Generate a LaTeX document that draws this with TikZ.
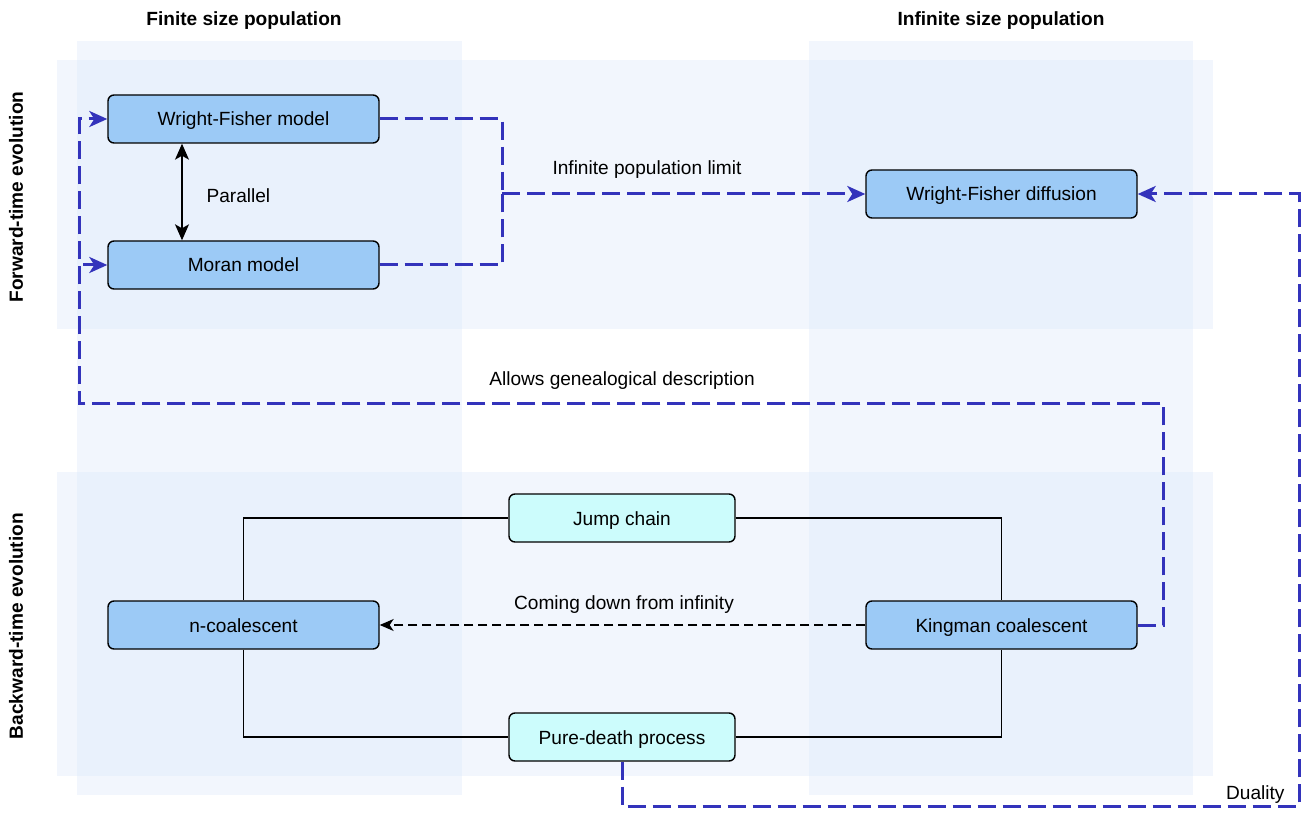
\documentclass[tikz,border=0pt]{standalone}
\usepackage{fontspec}
\setmainfont{Liberation Sans}
\usetikzlibrary{arrows.meta,calc}

\definecolor{bandblue}{RGB}{218,232,252}
\definecolor{boxblue}{RGB}{156,202,246}
\definecolor{boxcyan}{RGB}{204,252,252}
\definecolor{flowblue}{RGB}{51,51,187}

\tikzset{
  txt/.style={font=\fontsize{19.1}{22}\selectfont, text height=14pt, text depth=0pt},
  head/.style={txt, font=\fontsize{19.1}{22}\selectfont\bfseries},
  band/.style={fill=bandblue, fill opacity=0.35, draw=none},
  modelbox/.style={draw=black, line width=1.4pt, rounded corners=6pt, fill=boxblue,
    minimum width=271pt, minimum height=48pt, inner sep=0pt, txt},
  procbox/.style={modelbox, fill=boxcyan, minimum width=226pt},
  bluedash/.style={draw=flowblue, line width=3pt, dash pattern=on 18pt off 7pt},
  bluetip/.style={-{Stealth[length=18pt,width=16pt,inset=5pt]}},
  plainline/.style={draw=black, line width=1.3pt},
  thindash/.style={draw=black, line width=1.3pt, dash pattern=on 9pt off 5pt,
    -{Stealth[length=14pt,width=12pt,inset=4pt]}},
}

\begin{document}
\begin{tikzpicture}[x=1pt, y=-1pt]
\useasboundingbox (0,0) rectangle (1307,813);
\fill[white] (0,0) rectangle (1307,813);

% translucent lanes: two columns and two rows
\fill[band] (77,41) rectangle (462,795);
\fill[band] (809,41) rectangle (1193,795);
\fill[band] (57,60) rectangle (1213,329);
\fill[band] (57,472) rectangle (1213,776);

% lane headings
\node[head] (hfin) at (244,19) {Finite size population};
\node[head] (hinf) at (1001,19) {Infinite size population};
\node[head, rotate=90] (hfwd) at (16,197) {Forward-time evolution};
\node[head, rotate=90] (hbwd) at (16,626) {Backward-time evolution};

% models
\node[modelbox] (wf)  at (243.5,119) {Wright-Fisher model};
\node[modelbox] (mo)  at (243.5,265) {Moran model};
\node[modelbox] (wfd) at (1001.5,194) {Wright-Fisher diffusion};
\node[modelbox] (nc)  at (243.5,625) {n-coalescent};
\node[modelbox] (kc)  at (1001.5,625) {Kingman coalescent};
\node[procbox]  (jc)  at (622,518) {Jump chain};
\node[procbox]  (pd)  at (622,737) {Pure-death process};

% bend points
\coordinate (jn) at (502,194);
\coordinate (g1) at (1163,403);
\coordinate (g2) at (79,403);
\coordinate (dc) at (1299,806);
\coordinate (px) at (182,200);

% parallel models
\draw[plainline, {Stealth[length=16pt,width=14pt,inset=4pt]}-{Stealth[length=16pt,width=14pt,inset=4pt]}]
  (wf.south -| px) -- (mo.north -| px);
\node[txt, anchor=west] (lpar) at (203,196) {Parallel};

% infinite population limit
\draw[bluedash] (wf.east) -| (jn);
\draw[bluedash] (mo.east) -| (jn);
\draw[bluedash, bluetip] (jn) -- (wfd.west);
\node[txt] (llim) at (647,168) {Infinite population limit};

% genealogical description
\draw[bluedash, bluetip] (kc.east) -| (g1) -- (g2) |- (wf.west);
\draw[bluedash, bluetip] ($(g2 |- mo.west)+(4,0)$) -- (mo.west);
\node[txt] (lgen) at (622,378) {Allows genealogical description};

% duality
\draw[bluedash, bluetip] (pd.south) |- (dc) |- (wfd.east);
\node[txt, anchor=east] (ldual) at (1288,792) {Duality};

% coalescent relations
\draw[thindash] (kc.west) -- (nc.east);
\node[txt] (lcome) at (624,602) {Coming down from infinity};
\draw[plainline] (nc.north) |- (jc.west);
\draw[plainline] (jc.east) -| (kc.north);
\draw[plainline] (nc.south) |- (pd.west);
\draw[plainline] (pd.east) -| (kc.south);
\end{tikzpicture}
\end{document}
